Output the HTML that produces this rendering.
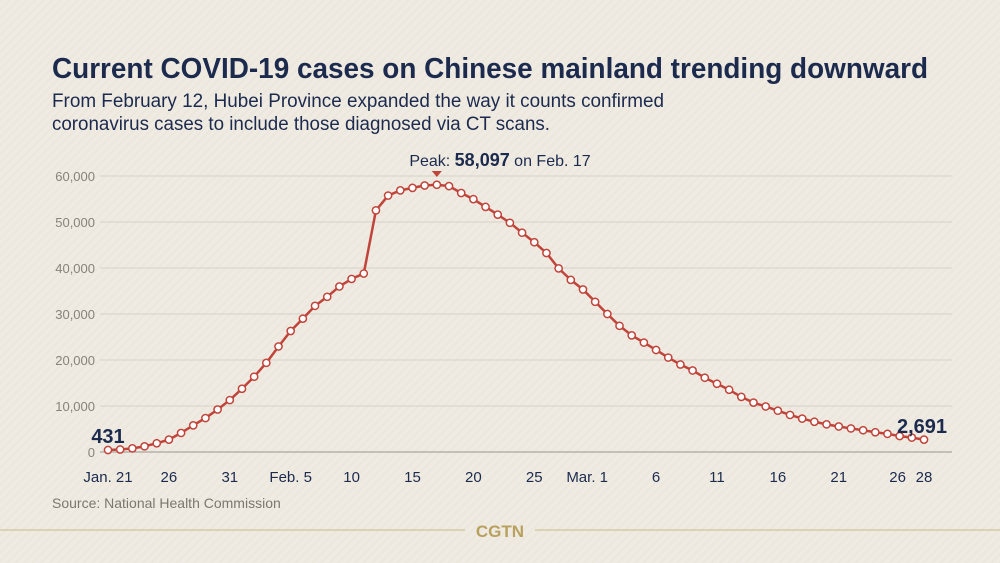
<!DOCTYPE html>
<html><head><meta charset="utf-8"><style>
html,body{margin:0;padding:0;width:1000px;height:563px;overflow:hidden;background:#efebe2;}
svg{display:block;font-family:"Liberation Sans",sans-serif;}
</style></head><body>
<svg id="chart" width="1000" height="563" viewBox="0 0 1000 563">
<defs><pattern id="stripes" width="6" height="6" patternUnits="userSpaceOnUse" patternTransform="rotate(45)"><rect width="6" height="6" fill="#efebe2"/><rect width="2" height="6" fill="#ebe7dd"/></pattern></defs>
<rect width="1000" height="563" fill="url(#stripes)"/>
<text x="52" y="78" font-size="29" font-weight="bold" fill="#1c2a4e" textLength="876" lengthAdjust="spacingAndGlyphs">Current COVID-19 cases on Chinese mainland trending downward</text>
<text x="52" y="107" font-size="19" fill="#1c2a4e" textLength="612" lengthAdjust="spacingAndGlyphs">From February 12, Hubei Province expanded the way it counts confirmed</text>
<text x="52" y="130" font-size="19" fill="#1c2a4e" textLength="498" lengthAdjust="spacingAndGlyphs">coronavirus cases to include those diagnosed via CT scans.</text>
<g id="grid"></g><g id="xaxis"></g><g id="series"></g><g id="annot"></g>
<text x="52" y="508" font-size="14" fill="#7a7770">Source: National Health Commission</text>
<line x1="0" y1="530" x2="465" y2="530" stroke="#c9b98a" stroke-width="1"/>
<line x1="535" y1="530" x2="1000" y2="530" stroke="#c9b98a" stroke-width="1"/>
<text x="500" y="537" font-size="17" font-weight="bold" fill="#b8a15f" text-anchor="middle">CGTN</text>
</svg>
<script>
const values = [431,537,788,1231,1899,2690,4139,5789,7375,9239,11289,
13748,16369,19381,22942,26302,28985,31774,33738,35982,37626,38800,52526,55748,56873,57416,57934,58097,57805,56303,54965,53284,51606,49824,47672,45604,43258,39919,37414,35329,
32652,30004,27433,25352,23784,22177,20533,19016,17721,16145,14831,13526,11977,10734,9898,8976,8056,7263,6569,6013,5549,5120,4735,4287,3947,3460,3128,2691];
const yTicks = [0,10000,20000,30000,40000,50000,60000];
const xTickIdx = [0,5,10,15,20,25,30,35,40,45,50,55,60,65,67];
const xTickLabels = ["Jan. 21","26","31","Feb. 5","10","15","20","25","Mar. 1","6","11","16","21","26","28"];
const peakIdx = 27;
const NS="http://www.w3.org/2000/svg";
const x0=108,x1=924,y0=452,yTop=176;
function xs(i){return x0+(x1-x0)*i/(values.length-1);}
function ys(v){return y0-(y0-yTop)*v/60000;}
function mk(tag,attrs,parent,text){const e=document.createElementNS(NS,tag);for(const k in attrs)e.setAttribute(k,attrs[k]);if(text!==undefined)e.textContent=text;parent.appendChild(e);return e;}
const grid=document.getElementById('grid');
yTicks.forEach(t=>{
 const l=mk('line',{x1:100,x2:952,y1:ys(t),y2:ys(t),stroke:t===0?'#9a968c':'#d6d2c8','stroke-width':1},grid);
 
 
 const tx=mk('text',{x:95,y:ys(t)+5,'font-size':13,fill:'#86827a','text-anchor':'end'},grid,t.toLocaleString('en-US'));
 
 
});
const xa=document.getElementById('xaxis');
xTickIdx.forEach((d,k)=>{
 let x=xs(d); let anchor='middle';
 if(k===13){x-=2;} if(k===8){x-=8;}
 const tx=mk('text',{x:x,y:482,'font-size':15,fill:'#1c2a4e','text-anchor':anchor},xa,xTickLabels[k]);
 
 
});
const s=document.getElementById('series');
const pl=mk('polyline',{points:values.map((v,i)=>xs(i)+','+ys(v)).join(' '),fill:'none',stroke:'#c0443a','stroke-width':2.5,'stroke-linejoin':'round'},s);


values.forEach((v,i)=>{
 const c=mk('circle',{cx:xs(i),cy:ys(v),r:3.6,fill:'#fff',stroke:'#c0443a','stroke-width':1.5},s);
 
 
});
const a=document.getElementById('annot');
const px=xs(peakIdx);
const tri=mk('path',{d:`M${px-5},${yTop-5} L${px+5},${yTop-5} L${px},${yTop+1} Z`,fill:'#c0443a'},a);


const pt=mk('text',{x:500,y:166,'font-size':16,fill:'#1c2a4e','text-anchor':'middle'},a);


mk('tspan',{},pt,'Peak: ');
mk('tspan',{'font-weight':'bold','font-size':18},pt,values[peakIdx].toLocaleString('en-US'));
mk('tspan',{},pt,' on Feb. 17');
const f=mk('text',{x:108,y:443,'font-size':20,'font-weight':'bold',fill:'#1c2a4e','text-anchor':'middle'},a,values[0].toLocaleString('en-US'));


const l=mk('text',{x:922,y:433,'font-size':20,'font-weight':'bold',fill:'#1c2a4e','text-anchor':'middle'},a,values[values.length-1].toLocaleString('en-US'));


</script>
</body></html>
